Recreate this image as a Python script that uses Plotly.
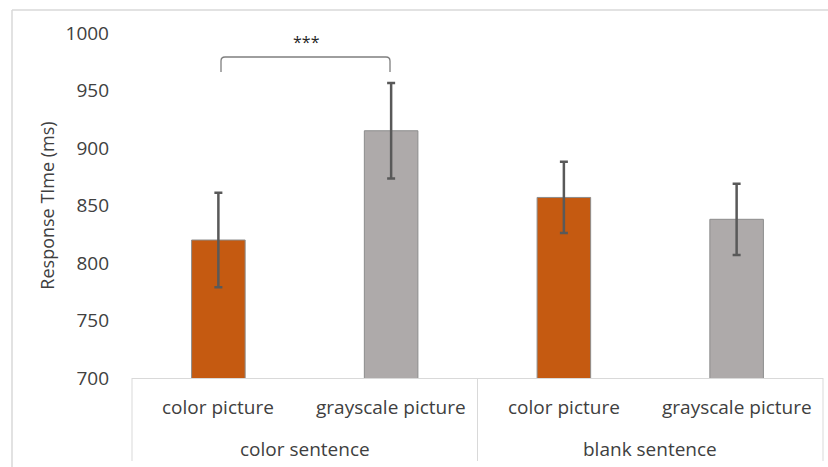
import plotly.graph_objects as go

# Response time by sentence condition and picture type
sentences = ["color sentence", "color sentence", "blank sentence", "blank sentence"]
pictures = ["color picture", "grayscale picture", "color picture", "grayscale picture"]
mean_rt = [820, 915, 857, 838]
err_rt = [41, 41.5, 31, 31]
bar_colors = ["#C55A11", "#AEAAAA", "#C55A11", "#AEAAAA"]
y_ticks = [700, 750, 800, 850, 900, 950, 1000]

W, H = 828, 467
ML, MR, MT, MB = 132, 5, 33, 89
PW, PH = W - ML - MR, H - MT - MB

FONT = "Open Sans"
TXT = "#404040"
FRAME = "#D9D9D9"

fig = go.Figure()
fig.add_trace(go.Bar(
    x=[sentences, pictures],
    y=mean_rt,
    marker=dict(color=bar_colors, line=dict(color="#8C8C8C", width=1)),
    error_y=dict(type="data", array=err_rt, visible=True,
                 color="#595959", thickness=2.5, width=4),
    width=0.31,
    showlegend=False,
))


def px_x(px):
    return (px - ML) / PW


def px_y(px):
    return (H - MB - px) / PH


n = len(pictures)

# two-level category labels under the axis
for i, p in enumerate(pictures):
    fig.add_annotation(x=(i + 0.5) / n, y=px_y(407), xref="paper", yref="paper",
                       text=p, showarrow=False, xanchor="center", yanchor="middle",
                       font=dict(family=FONT, size=19, color=TXT))
groups = []
for i, s in enumerate(sentences):
    if not groups or groups[-1][0] != s:
        groups.append([s, i, i])
    else:
        groups[-1][2] = i
for s, a, b in groups:
    fig.add_annotation(x=(a + b + 1) / 2 / n, y=px_y(449), xref="paper", yref="paper",
                       text=s, showarrow=False, xanchor="center", yanchor="middle",
                       font=dict(family=FONT, size=19, color=TXT))
    # group dividers
    for edge in (a, b + 1):
        fig.add_shape(type="line", xref="paper", yref="paper",
                      x0=edge / n, x1=edge / n, y0=0, y1=px_y(461),
                      line=dict(color=FRAME, width=1))

# significance bracket between the two color-sentence bars
bx0, bx1 = px_x(221), px_x(390)
yt, yb = px_y(57), px_y(72)
r = 4 / PW
rv = 4 / PH
path = (f"M {bx0},{yb} L {bx0},{yt - rv} Q {bx0},{yt} {bx0 + r},{yt} "
        f"L {bx1 - r},{yt} Q {bx1},{yt} {bx1},{yt - rv} L {bx1},{yb}")
fig.add_shape(type="path", path=path, xref="paper", yref="paper",
              line=dict(color="#7F7F7F", width=1.3))
fig.add_annotation(x=px_x(306), y=px_y(42), xref="paper", yref="paper",
                   text="***", showarrow=False, xanchor="center", yanchor="middle",
                   font=dict(family=FONT, size=16, color="#262626"))

# outer chart frame (top and left edges)
fig.add_shape(type="line", xref="paper", yref="paper",
              x0=px_x(12), x1=px_x(840), y0=px_y(10), y1=px_y(10),
              line=dict(color=FRAME, width=1.5))
fig.add_shape(type="line", xref="paper", yref="paper",
              x0=px_x(12), x1=px_x(12), y0=px_y(10), y1=px_y(480),
              line=dict(color=FRAME, width=1.5))

fig.update_layout(
    width=W, height=H,
    margin=dict(l=ML, r=MR, t=MT, b=MB),
    paper_bgcolor="white", plot_bgcolor="white",
    font=dict(family=FONT, color=TXT),
    xaxis=dict(
        type="multicategory",
        showline=True, linecolor=FRAME, linewidth=1,
        showticklabels=False, showdividers=False,
        ticks="", showgrid=False,
    ),
    yaxis=dict(
        range=[700, 1000], tickvals=y_ticks,
        showgrid=False, zeroline=False, showline=False,
        tickfont=dict(family=FONT, size=19, color=TXT),
        ticklabelstandoff=22,
        title=dict(text="Response TIme (ms)", standoff=6,
                   font=dict(family=FONT, size=18, color=TXT)),
    ),
)

fig.write_html("out.html")
